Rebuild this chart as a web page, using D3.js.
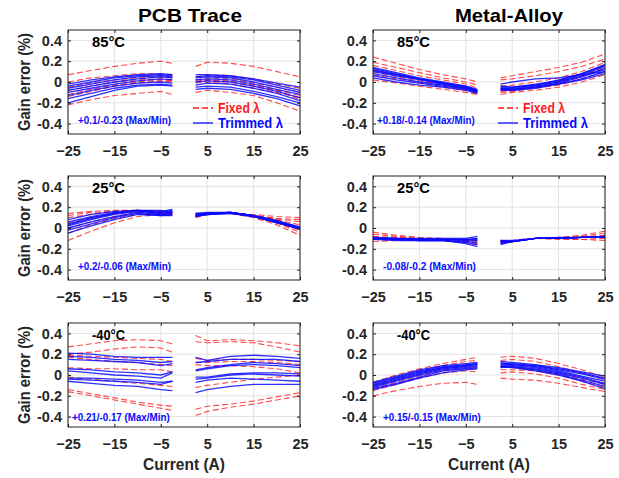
<!DOCTYPE html>
<html>
<head>
<meta charset="utf-8">
<script src="https://cdn.jsdelivr.net/npm/d3@7"></script>
<style>
  body { margin: 0; background: #fff; }
  svg { font-family: "Liberation Sans", Arial, sans-serif; font-weight: bold; }
</style>
</head>
<body>
<div id="chart"></div>
<script>
// current sample points: left segment then right segment (gap around 0 A)
let currentLeft  = [-25, -20, -15, -10, -5, -2.5];
let currentRight = [2.5, 5, 10, 15, 20, 25];

let xTicks = [-25, -15, -5, 5, 15, 25];
let yTicks = [-0.4, -0.2, 0, 0.2, 0.4];
let yTickLabels = ["-0.4", "-0.2", "0", "0.2", "0.4"];

let columnTitles = ["PCB Trace", "Metal-Alloy"];
let rowTemps = ["85°C", "25°C", "-40°C"];

// ---- PCB trace, 85°C ----
let pcb85Fixed = [
  [0.07, 0.11, 0.15, 0.18, 0.20, 0.18,   0.15, 0.19, 0.18, 0.15, 0.10, 0.05],
  [-0.12, -0.07, -0.03, 0.00, 0.02, 0.01, 0.01, 0.02, 0.00, -0.04, -0.08, -0.13],
  [-0.14, -0.09, -0.04, -0.01, 0.01, 0.00, -0.01, 0.00, -0.02, -0.06, -0.10, -0.15],
  [-0.08, -0.04, 0.00, 0.02, 0.03, 0.02, 0.02, 0.04, 0.03, -0.01, -0.05, -0.10],
  [0.00, 0.04, 0.06, 0.08, 0.08, 0.07,   0.05, 0.07, 0.06, 0.03, -0.02, -0.06],
  [-0.22, -0.17, -0.13, -0.11, -0.09, -0.12, -0.10, -0.08, -0.10, -0.13, -0.20, -0.28],
  [-0.05, -0.01, 0.02, 0.04, 0.05, 0.04, 0.00, 0.02, 0.01, -0.03, -0.08, -0.17]
];
let pcb85Trimmed = [
  [-0.02, 0.02, 0.05, 0.07, 0.08, 0.07,  0.07, 0.07, 0.06, 0.03, -0.01, -0.05],
  [-0.04, 0.00, 0.04, 0.06, 0.07, 0.06,  0.05, 0.06, 0.05, 0.02, -0.03, -0.08],
  [-0.06, -0.02, 0.02, 0.05, 0.06, 0.05, 0.04, 0.05, 0.04, 0.00, -0.05, -0.10],
  [-0.08, -0.04, 0.00, 0.03, 0.05, 0.04, 0.02, 0.03, 0.02, -0.02, -0.07, -0.12],
  [-0.10, -0.06, -0.02, 0.01, 0.03, 0.02, 0.00, 0.01, 0.00, -0.04, -0.09, -0.15],
  [-0.13, -0.08, -0.04, -0.01, 0.00, -0.01, -0.03, -0.01, -0.02, -0.06, -0.11, -0.18],
  [-0.16, -0.11, -0.06, -0.03, -0.02, -0.03, -0.05, -0.04, -0.05, -0.09, -0.14, -0.20],
  [-0.20, -0.14, -0.08, -0.04, -0.03, -0.04, -0.07, -0.06, -0.07, -0.11, -0.16, -0.23]
];

// ---- Metal alloy, 85°C ----
let metal85Fixed = [
  [0.24, 0.18, 0.12, 0.07, 0.03, 0.00,   0.04, 0.06, 0.10, 0.14, 0.19, 0.27],
  [0.19, 0.14, 0.09, 0.04, 0.00, -0.03,  0.02, 0.03, 0.06, 0.10, 0.15, 0.22],
  [0.16, 0.11, 0.06, 0.02, -0.02, -0.06, -0.04, -0.03, 0.00, 0.04, 0.10, 0.19],
  [0.12, 0.07, 0.03, -0.02, -0.06, -0.09, -0.07, -0.07, -0.04, 0.00, 0.06, 0.15],
  [0.07, 0.03, -0.01, -0.05, -0.08, -0.11, -0.10, -0.09, -0.06, -0.03, 0.03, 0.10],
  [0.02, -0.01, -0.04, -0.07, -0.10, -0.12, -0.12, -0.10, -0.08, -0.05, 0.00, 0.07],
  [0.10, 0.05, 0.01, -0.03, -0.07, -0.10, -0.09, -0.08, -0.05, -0.01, 0.05, 0.13]
];
let metal85Trimmed = [
  [0.14, 0.09, 0.04, 0.00, -0.04, -0.08, -0.05, -0.05, -0.03, 0.02, 0.08, 0.17],
  [0.12, 0.07, 0.03, -0.01, -0.05, -0.08, -0.06, -0.06, -0.03, 0.01, 0.07, 0.15],
  [0.10, 0.06, 0.02, -0.02, -0.06, -0.09, -0.06, -0.07, -0.04, 0.00, 0.06, 0.13],
  [0.08, 0.04, 0.00, -0.03, -0.06, -0.10, -0.07, -0.07, -0.05, -0.01, 0.05, 0.12],
  [0.06, 0.02, -0.01, -0.04, -0.07, -0.10, -0.07, -0.08, -0.05, -0.02, 0.03, 0.10],
  [0.04, 0.00, -0.03, -0.05, -0.08, -0.11, -0.08, -0.08, -0.06, -0.02, 0.02, 0.08],
  [0.11, 0.07, 0.03, -0.01, -0.04, -0.07, -0.02, 0.00, 0.03, 0.04, 0.07, 0.10],
  [0.13, 0.08, 0.03, -0.01, -0.05, -0.09, -0.04, -0.05, -0.02, 0.01, 0.08, 0.16]
];

// ---- PCB trace, 25°C ----
let pcb25Fixed = [
  [0.14, 0.16, 0.17, 0.17, 0.16, 0.15,   0.13, 0.14, 0.14, 0.13, 0.11, 0.10],
  [0.12, 0.15, 0.16, 0.17, 0.15, 0.14,   0.12, 0.14, 0.14, 0.12, 0.09, 0.06],
  [-0.12, -0.03, 0.05, 0.11, 0.13, 0.12, 0.10, 0.13, 0.14, 0.10, 0.03, -0.07],
  [-0.05, 0.03, 0.09, 0.13, 0.14, 0.14,  0.11, 0.13, 0.14, 0.11, 0.05, -0.04],
  [0.05, 0.10, 0.14, 0.16, 0.15, 0.15,   0.12, 0.14, 0.15, 0.12, 0.08, 0.03],
  [0.00, 0.06, 0.11, 0.15, 0.14, 0.13,   0.12, 0.13, 0.15, 0.11, 0.06, -0.02],
  [0.10, 0.13, 0.16, 0.17, 0.14, 0.13,   0.11, 0.14, 0.15, 0.12, 0.09, 0.08]
];
let pcb25Trimmed = [
  [0.08, 0.13, 0.16, 0.17, 0.16, 0.18,   0.14, 0.15, 0.15, 0.12, 0.07, 0.00],
  [0.06, 0.11, 0.15, 0.17, 0.15, 0.17,   0.13, 0.14, 0.15, 0.12, 0.07, 0.01],
  [0.04, 0.10, 0.14, 0.17, 0.14, 0.16,   0.13, 0.14, 0.15, 0.12, 0.06, 0.00],
  [0.02, 0.08, 0.13, 0.16, 0.14, 0.15,   0.12, 0.14, 0.15, 0.12, 0.06, -0.01],
  [0.00, 0.06, 0.11, 0.15, 0.13, 0.14,   0.12, 0.13, 0.15, 0.11, 0.06, -0.01],
  [-0.02, 0.04, 0.10, 0.14, 0.12, 0.13,  0.11, 0.13, 0.14, 0.11, 0.05, -0.01],
  [-0.05, 0.02, 0.08, 0.13, 0.12, 0.12,  0.11, 0.13, 0.14, 0.11, 0.05, 0.00],
  [0.03, 0.09, 0.14, 0.17, 0.17, 0.15,   0.14, 0.14, 0.15, 0.12, 0.07, 0.00]
];

// ---- Metal alloy, 25°C ----
let metal25Fixed = [
  [-0.04, -0.07, -0.09, -0.10, -0.11, -0.10, -0.12, -0.12, -0.10, -0.09, -0.07, -0.03],
  [-0.06, -0.08, -0.10, -0.11, -0.12, -0.13, -0.13, -0.13, -0.10, -0.10, -0.08, -0.05],
  [-0.13, -0.12, -0.12, -0.12, -0.14, -0.16, -0.15, -0.13, -0.10, -0.10, -0.11, -0.12],
  [-0.11, -0.11, -0.11, -0.12, -0.13, -0.15, -0.14, -0.13, -0.10, -0.11, -0.11, -0.10],
  [-0.08, -0.09, -0.10, -0.11, -0.12, -0.12, -0.13, -0.12, -0.10, -0.10, -0.09, -0.07]
];
let metal25Trimmed = [
  [-0.09, -0.10, -0.10, -0.10, -0.10, -0.08, -0.12, -0.13, -0.10, -0.10, -0.09, -0.08],
  [-0.10, -0.10, -0.11, -0.11, -0.11, -0.10, -0.13, -0.13, -0.10, -0.10, -0.09, -0.09],
  [-0.10, -0.11, -0.11, -0.11, -0.12, -0.12, -0.14, -0.13, -0.10, -0.10, -0.09, -0.09],
  [-0.11, -0.11, -0.12, -0.12, -0.13, -0.14, -0.15, -0.13, -0.10, -0.10, -0.09, -0.08],
  [-0.11, -0.12, -0.12, -0.12, -0.14, -0.16, -0.13, -0.13, -0.10, -0.09, -0.09, -0.08],
  [-0.10, -0.11, -0.12, -0.12, -0.15, -0.18, -0.16, -0.13, -0.10, -0.10, -0.09, -0.09],
  [-0.09, -0.10, -0.11, -0.11, -0.11, -0.11, -0.12, -0.12, -0.10, -0.10, -0.09, -0.08]
];

// ---- PCB trace, -40°C ----
let pcbM40Fixed = [
  [0.27, 0.30, 0.33, 0.34, 0.33, 0.30,   0.38, 0.33, 0.34, 0.33, 0.31, 0.28],
  [0.20, 0.22, 0.25, 0.27, 0.26, 0.22,   0.32, 0.31, 0.32, 0.31, 0.27, 0.22],
  [0.19, 0.18, 0.17, 0.16, 0.15, 0.13,   0.16, 0.14, 0.15, 0.15, 0.14, 0.13],
  [0.17, 0.15, 0.13, 0.12, 0.10, 0.09,   0.12, 0.12, 0.13, 0.13, 0.12, 0.10],
  [0.07, 0.06, 0.06, 0.05, 0.05, 0.03,   0.10, 0.09, 0.09, 0.08, 0.06, 0.02],
  [-0.14, -0.18, -0.22, -0.26, -0.29, -0.30, -0.33, -0.30, -0.28, -0.25, -0.21, -0.17],
  [-0.16, -0.20, -0.24, -0.28, -0.32, -0.34, -0.39, -0.35, -0.31, -0.28, -0.24, -0.20],
  [-0.02, -0.04, -0.06, -0.08, -0.10, -0.11, -0.12, -0.10, -0.07, -0.04, -0.02, 0.00]
];
let pcbM40Trimmed = [
  [0.21, 0.20, 0.18, 0.17, 0.17, 0.17,   0.17, 0.14, 0.18, 0.19, 0.18, 0.16],
  [0.18, 0.17, 0.15, 0.14, 0.12, 0.13,   0.12, 0.13, 0.15, 0.15, 0.15, 0.13],
  [0.15, 0.14, 0.13, 0.12, 0.09, 0.11,   0.05, 0.07, 0.10, 0.12, 0.11, 0.09],
  [0.06, 0.05, 0.03, 0.02, 0.00, 0.03,   0.04, 0.06, 0.09, 0.10, 0.09, 0.07],
  [0.04, 0.02, 0.00, -0.01, -0.03, 0.02, -0.02, -0.02, 0.01, 0.02, 0.02, 0.01],
  [-0.03, -0.03, -0.04, -0.05, -0.07, -0.06, -0.04, -0.03, 0.00, 0.01, 0.00, -0.01],
  [-0.04, -0.05, -0.06, -0.07, -0.09, -0.06, -0.07, -0.05, -0.03, -0.04, -0.05, -0.06],
  [-0.06, -0.08, -0.10, -0.11, -0.14, -0.15, -0.17, -0.14, -0.11, -0.09, -0.09, -0.09]
];

// ---- Metal alloy, -40°C ----
let metalM40Fixed = [
  [-0.07, 0.00, 0.06, 0.11, 0.15, 0.17,  0.17, 0.18, 0.16, 0.11, 0.05, -0.02],
  [-0.10, -0.03, 0.03, 0.09, 0.13, 0.14, 0.14, 0.15, 0.13, 0.08, 0.02, -0.05],
  [-0.13, -0.07, -0.01, 0.04, 0.06, 0.06, 0.05, 0.05, 0.04, 0.00, -0.06, -0.12],
  [-0.15, -0.09, -0.03, 0.02, 0.04, 0.03, 0.02, 0.03, 0.01, -0.03, -0.09, -0.14],
  [-0.20, -0.15, -0.11, -0.08, -0.07, -0.09, -0.03, -0.04, -0.05, -0.08, -0.12, -0.16],
  [-0.11, -0.05, 0.01, 0.06, 0.08, 0.08, 0.08, 0.07, 0.05, 0.02, -0.04, -0.09]
];
let metalM40Trimmed = [
  [-0.07, -0.01, 0.05, 0.09, 0.11, 0.12, 0.13, 0.12, 0.10, 0.07, 0.03, -0.01],
  [-0.08, -0.02, 0.04, 0.08, 0.10, 0.11, 0.11, 0.11, 0.09, 0.05, 0.01, -0.04],
  [-0.10, -0.04, 0.02, 0.07, 0.09, 0.10, 0.10, 0.10, 0.08, 0.04, -0.01, -0.06],
  [-0.11, -0.05, 0.01, 0.06, 0.08, 0.09, 0.09, 0.09, 0.07, 0.03, -0.02, -0.08],
  [-0.12, -0.06, 0.00, 0.05, 0.07, 0.08, 0.08, 0.08, 0.06, 0.02, -0.03, -0.09],
  [-0.13, -0.08, -0.02, 0.04, 0.06, 0.07, 0.07, 0.08, 0.05, 0.01, -0.05, -0.11],
  [-0.14, -0.09, -0.03, 0.02, 0.05, 0.06, 0.08, 0.07, 0.04, 0.00, -0.06, -0.13],
  [-0.09, -0.03, 0.03, 0.07, 0.09, 0.11, 0.12, 0.10, 0.09, 0.06, 0.02, -0.03]
];

let maxMinNotes = [
  ["+0.1/-0.23 (Max/Min)",  "+0.18/-0.14 (Max/Min)"],
  ["+0.2/-0.06 (Max/Min)",  "-0.08/-0.2 (Max/Min)"],
  ["+0.21/-0.17 (Max/Min)", "+0.15/-0.15 (Max/Min)"]
];

let panelData = [
  [[pcb85Fixed, pcb85Trimmed], [metal85Fixed, metal85Trimmed]],
  [[pcb25Fixed, pcb25Trimmed], [metal25Fixed, metal25Trimmed]],
  [[pcbM40Fixed, pcbM40Trimmed], [metalM40Fixed, metalM40Trimmed]]
];

// ---- layout ----
let width = 619, height = 478;
let colLeft = [68, 373];
let panelWidth = 232;
let rowTop = [30, 176, 323];
let panelHeight = 104;

let red = "#ff1a1a", blue = "#0a0aff";

let svg = d3.select("#chart").append("svg")
    .attr("width", width)
    .attr("height", height);

let x = d3.scaleLinear().domain([-25, 25]).range([0, panelWidth]);
let y = d3.scaleLinear().domain([-0.5, 0.5]).range([panelHeight, 0]);

let line = d3.line()
    .defined(d => d != null)
    .x(d => x(d[0]))
    .y(d => y(d[1]));

function toPoints(values) {
  let pts = currentLeft.map((c, i) => [c, values[i]]);
  pts.push(null);
  currentRight.forEach((c, i) => pts.push([c, values[i + currentLeft.length]]));
  return pts;
}

rowTop.forEach(function(top, r) {
  colLeft.forEach(function(left, c) {
    let g = svg.append("g").attr("transform", translate(left, top));

    // grid
    g.append("g").selectAll("line").data(xTicks).enter().append("line")
        .attr("x1", d => x(d)).attr("x2", d => x(d))
        .attr("y1", 0).attr("y2", panelHeight)
        .attr("stroke", "#e3e3e3");
    g.append("g").selectAll("line").data(yTicks).enter().append("line")
        .attr("y1", d => y(d)).attr("y2", d => y(d))
        .attr("x1", 0).attr("x2", panelWidth)
        .attr("stroke", "#e3e3e3");

    let fixed = panelData[r][c][0], trimmed = panelData[r][c][1];

    g.selectAll(".fixed").data(fixed).enter().append("path")
        .attr("class", "fixed")
        .attr("d", d => line(toPoints(d)))
        .attr("fill", "none")
        .attr("stroke", red)
        .attr("stroke-opacity", 0.8)
        .attr("stroke-width", 1.1)
        .attr("stroke-dasharray", "6,3");

    g.selectAll(".trimmed").data(trimmed).enter().append("path")
        .attr("class", "trimmed")
        .attr("d", d => line(toPoints(d)))
        .attr("fill", "none")
        .attr("stroke", blue)
        .attr("stroke-opacity", 0.85)
        .attr("stroke-width", 1.3);

    // axes
    let xAxis = g.append("g")
        .attr("transform", translate(0, panelHeight))
        .call(d3.axisBottom(x).tickValues(xTicks).tickSizeInner(-3).tickSizeOuter(0).tickPadding(12));
    let yAxis = g.append("g")
        .call(d3.axisLeft(y).tickValues(yTicks).tickSizeInner(-3).tickSizeOuter(0).tickPadding(6)
              .tickFormat((d, i) => yTickLabels[i]));
    g.append("g")
        .call(d3.axisTop(x).tickValues(xTicks).tickSizeInner(-3).tickSizeOuter(0).tickFormat(""));
    g.append("g")
        .attr("transform", translate(panelWidth, 0))
        .call(d3.axisRight(y).tickValues(yTicks).tickSizeInner(-3).tickSizeOuter(0).tickFormat(""));
    g.selectAll(".domain").remove();
    g.selectAll(".tick line").attr("stroke", "#222");
    [xAxis, yAxis].forEach(a => a.selectAll("text")
        .style("font-size", "14.5px")
        .style("font-weight", "bold")
        .style("font-family", "'Liberation Sans', Arial, sans-serif")
        .attr("fill", "#262626"));

    g.append("rect")
        .attr("width", panelWidth).attr("height", panelHeight)
        .attr("fill", "none").attr("stroke", "#222").attr("stroke-width", 1);

    // temperature label
    g.append("text")
        .attr("x", 24).attr("y", 17)
        .attr("font-size", 15)
        .attr("textLength", 33).attr("lengthAdjust", "spacingAndGlyphs")
        .text(rowTemps[r]);

    // max/min note
    let note = maxMinNotes[r][c];
    g.append("text")
        .attr("x", r == 2 ? (c == 0 ? 4 : 10) : (c == 0 ? 10 : (r == 0 ? 4 : 10)))
        .attr("y", r == 2 ? panelHeight - 6 : panelHeight - 10)
        .attr("font-size", 10.5)
        .attr("fill", blue)
        .attr("textLength", note.length * 4.65).attr("lengthAdjust", "spacingAndGlyphs")
        .text(note);

    // legend on top row
    if (r == 0) {
      let lg = g.append("g").attr("transform", translate(125, 78));
      lg.append("line").attr("x1", 0).attr("x2", 20).attr("y1", 0).attr("y2", 0)
          .attr("stroke", red).attr("stroke-width", 1.3).attr("stroke-dasharray", "6,3");
      lg.append("text").attr("x", 25).attr("y", 5).attr("font-size", 14).attr("fill", red)
          .attr("textLength", 42).attr("lengthAdjust", "spacingAndGlyphs")
          .text("Fixed λ");
      lg.append("line").attr("x1", 0).attr("x2", 20).attr("y1", 15).attr("y2", 15)
          .attr("stroke", blue).attr("stroke-width", 1.3);
      lg.append("text").attr("x", 25).attr("y", 20).attr("font-size", 14).attr("fill", blue)
          .attr("textLength", 65).attr("lengthAdjust", "spacingAndGlyphs")
          .text("Trimmed λ");
    }
  });
});

// column titles
[190, 509].forEach(function(cx, i) {
  svg.append("text")
      .attr("x", cx).attr("y", 22)
      .attr("text-anchor", "middle")
      .attr("font-size", 19)
      .attr("textLength", i == 0 ? 104 : 108).attr("lengthAdjust", "spacingAndGlyphs")
      .text(columnTitles[i]);
});

// y labels (left column only)
rowTop.forEach(function(top) {
  svg.append("text")
      .attr("transform", translate(30, top + panelHeight / 2) + " rotate(-90)")
      .attr("text-anchor", "middle")
      .attr("font-size", 17)
      .attr("fill", "#262626")
      .attr("textLength", 98).attr("lengthAdjust", "spacingAndGlyphs")
      .text("Gain error (%)");
});

// x labels (bottom row)
[184, 489].forEach(function(cx) {
  svg.append("text")
      .attr("x", cx).attr("y", 470)
      .attr("text-anchor", "middle")
      .attr("font-size", 17)
      .attr("fill", "#262626")
      .attr("textLength", 82).attr("lengthAdjust", "spacingAndGlyphs")
      .text("Current (A)");
});

function translate(x, y = 0) {
  return "translate({x}, {y})".replace("{x}", x).replace("{y}", y);
}
</script>
</body>
</html>
